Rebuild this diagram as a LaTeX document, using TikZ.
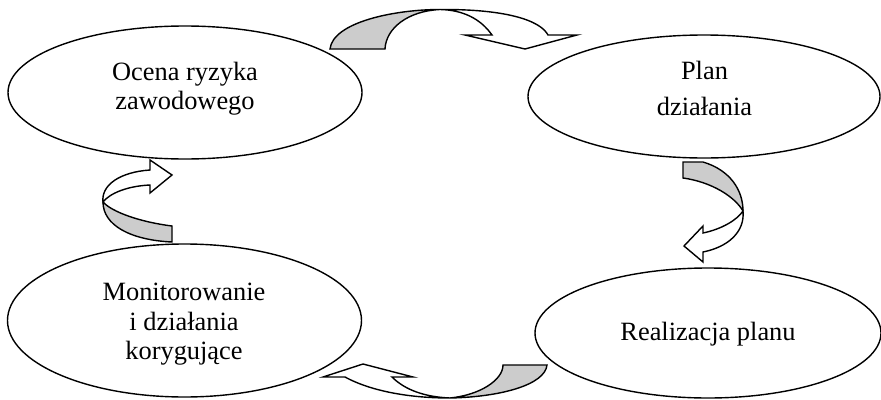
\documentclass[tikz,border=0pt]{standalone}
\usepackage{fontspec}
\setmainfont{Liberation Serif}
\usetikzlibrary{shapes.geometric}
\definecolor{shade}{RGB}{204,204,204}
\begin{document}
\begin{tikzpicture}[x=1pt,y=-1pt,
  oval/.style={draw, ellipse, line width=1.4pt, inner sep=0pt, outer sep=0pt},
  lbl/.style={anchor=base, inner sep=0pt, font=\fontsize{26.4}{32}\selectfont},
  back/.style={draw, fill=shade, line width=1.4pt, line join=miter},
  front/.style={draw, fill=white, line width=1.4pt, line join=miter}]
\useasboundingbox (0,0) rectangle (881,399);
% ellipses
\node[oval, minimum width=354pt, minimum height=133pt] (ocena) at (185,92.5) {};
\node[oval, minimum width=352pt, minimum height=123pt] (plan) at (704,96.5) {};
\node[oval, minimum width=354pt, minimum height=153pt] (monit) at (184.5,320.5) {};
\node[oval, minimum width=346pt, minimum height=130pt] (real) at (708,333) {};
% texts
\node[lbl] (o1) at (185,80) {Ocena ryzyka};
\node[lbl] (o2) at (185,109) {zawodowego};
\node[lbl] (p1) at (704.5,79) {Plan};
\node[lbl] (p2) at (704.5,115) {działania};
\node[lbl] (r1) at (708,340) {Realizacja planu};
\node[lbl] (m1) at (184,300) {Monitorowanie};
\node[lbl] (m2) at (184,330) {i działania};
\node[lbl] (m3) at (184,359) {korygujące};
% top arrow
\path[back] (330,49) .. controls (333,22) and (395,9.5) .. (440,9.5)
  .. controls (408,11) and (386,28) .. (385,49) -- cycle;
\path[front] (440,9.5) .. controls (505,9) and (540,20) .. (548,35) -- (577,35) -- (525,49)
  -- (465,35) -- (492,35) .. controls (480,18) and (462,10) .. (440,9.5) -- cycle;
% right arrow
\path[back] (683,162) -- (703,162) .. controls (730,170) and (743,190) .. (743,211)
  .. controls (735,197) and (712,182) .. (683,178) -- cycle;
\path[front] (743,211) .. controls (745,232) and (728,247) .. (703,252) -- (703,262)
  -- (684,246) -- (703,226) -- (703,233) .. controls (722,229) and (737,220) .. (743,211) -- cycle;
% left arrow
\path[back] (172,226) -- (172,242) .. controls (130,240) and (103,225) .. (103,202)
  .. controls (112,212) and (140,222) .. (172,226) -- cycle;
\path[front] (103,202) .. controls (101,185) and (120,172) .. (150,170) -- (150,160)
  -- (172,175) -- (150,193) -- (150,185) .. controls (128,186) and (110,193) .. (103,202) -- cycle;
% bottom arrow
\path[back] (503,365) -- (547,365) .. controls (545,385) and (500,397) .. (450,398)
  .. controls (480,395) and (503,380) .. (503,365) -- cycle;
\path[front] (450,398) .. controls (400,398) and (365,388) .. (345,377) -- (323,377)
  -- (363,364) -- (413,377) -- (392,377) .. controls (405,390) and (425,397) .. (450,398) -- cycle;
\end{tikzpicture}
\end{document}
